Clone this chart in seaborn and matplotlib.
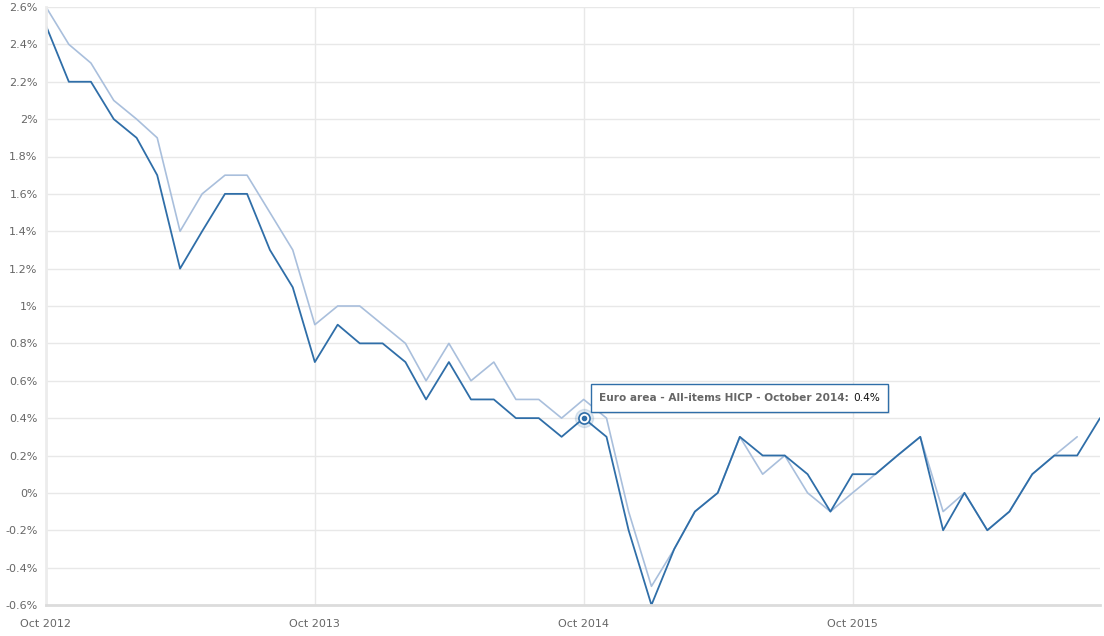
import matplotlib
matplotlib.use("Agg")
import matplotlib.pyplot as plt
from matplotlib.patches import Rectangle
import numpy as np
import pandas as pd
import seaborn as sns

# monthly values, Oct 2012 .. Sep 2016
months = pd.date_range("2012-10-01", periods=48, freq="MS")
hicp = [2.5, 2.2, 2.2, 2.0, 1.9, 1.7, 1.2, 1.4, 1.6, 1.6, 1.3, 1.1,
        0.7, 0.9, 0.8, 0.8, 0.7, 0.5, 0.7, 0.5, 0.5, 0.4, 0.4, 0.3,
        0.4, 0.3, -0.2, -0.6, -0.3, -0.1, 0.0, 0.3, 0.2, 0.2, 0.1, -0.1,
        0.1, 0.1, 0.2, 0.3, -0.2, 0.0, -0.2, -0.1, 0.1, 0.2, 0.2, 0.4]
# second series (lighter), ends Aug 2016
hicp_prev = [2.6, 2.4, 2.3, 2.1, 2.0, 1.9, 1.4, 1.6, 1.7, 1.7, 1.5, 1.3,
             0.9, 1.0, 1.0, 0.9, 0.8, 0.6, 0.8, 0.6, 0.7, 0.5, 0.5, 0.4,
             0.5, 0.4, -0.1, -0.5, -0.3, -0.1, 0.0, 0.3, 0.1, 0.2, 0.0, -0.1,
             0.0, 0.1, 0.2, 0.3, -0.1, 0.0, -0.2, -0.1, 0.1, 0.2, 0.3, np.nan]

y_ticks = [-0.6, -0.4, -0.2, 0, 0.2, 0.4, 0.6, 0.8, 1, 1.2, 1.4, 1.6, 1.8, 2, 2.2, 2.4, 2.6]
y_labels = ["-0.6%", "-0.4%", "-0.2%", "0%", "0.2%", "0.4%", "0.6%", "0.8%", "1%",
            "1.2%", "1.4%", "1.6%", "1.8%", "2%", "2.2%", "2.4%", "2.6%"]
x_label_dates = pd.to_datetime(["2012-10-01", "2013-10-01", "2014-10-01", "2015-10-01"])
x_labels = ["Oct 2012", "Oct 2013", "Oct 2014", "Oct 2015"]

tip_idx = 24
tip_text = "Euro area - All-items HICP - October 2014:"
tip_value = "0.4%"

df = pd.DataFrame({"month": months, "hicp": hicp, "prev": hicp_prev})

sns.set_style("white")
plt.rcParams["font.family"] = ["DejaVu Sans"]

dark = "#2f6ea8"
light = "#a9bfdc"
grid = "#e8e8e8"
txt = "#666666"

fig = plt.figure(figsize=(11.04, 6.36), dpi=100)
ax = fig.add_axes([46 / 1104, 31 / 636, 1054 / 1104, 598 / 636])

sns.lineplot(data=df, x="month", y="prev", ax=ax, color=light, linewidth=1.2)
sns.lineplot(data=df, x="month", y="hicp", ax=ax, color=dark, linewidth=1.3)

ax.set_xlim(months[0], months[-1])
ax.set_ylim(-0.6, 2.6)
ax.set_xlabel("")
ax.set_ylabel("")

ax.set_yticks(y_ticks)
ax.set_yticklabels(y_labels)
ax.set_xticks(x_label_dates)
ax.set_xticklabels(x_labels)
ax.set_xticks(months, minor=True)

ax.grid(True, axis="both", which="major", color=grid, linewidth=1)
ax.set_axisbelow(True)
ax.tick_params(axis="y", length=0, pad=6, labelsize=8, labelcolor=txt)
ax.tick_params(axis="x", which="major", length=5, width=1, color="#d0d0d0",
               pad=5, labelsize=8, labelcolor=txt)
ax.tick_params(axis="x", which="minor", length=4.5, width=1, color="#d8d8d8")
for s in ["top", "right"]:
    ax.spines[s].set_visible(False)
ax.spines["bottom"].set_color("#dcdcdc")
ax.spines["bottom"].set_linewidth(2)
ax.spines["left"].set_color("#ececec")
ax.spines["left"].set_linewidth(2)

# highlighted point
px, py = months[tip_idx], hicp[tip_idx]
ax.plot([px], [py], marker="o", markersize=13, color=dark, alpha=0.15, zorder=5)
ax.plot([px], [py], marker="o", markersize=8, markerfacecolor="white",
        markeredgecolor=dark, markeredgewidth=1.2, zorder=6)
ax.plot([px], [py], marker="o", markersize=3, color=dark, zorder=7)

# tooltip
t1 = ax.annotate(tip_text, xy=(0.0, 0.0), xycoords=ax.transData,
                 xytext=(11, 14.5), textcoords="offset points",
                 fontsize=7.6, fontweight="bold", color="#666666", va="center", ha="left", zorder=12)
t1.xy = (ax.convert_xunits(px), py)
t2 = ax.annotate(tip_value, xy=(1, 0.5), xycoords=t1, xytext=(3, 0), textcoords="offset points",
                 fontsize=7.6, color="#111111", va="center", ha="left", zorder=12)
fig.canvas.draw()
r = fig.canvas.get_renderer()
b1 = t1.get_window_extent(r)
b2 = t2.get_window_extent(r)
x0, x1 = b1.x0 - 8, b2.x1 + 8
yc = (b1.y0 + b1.y1) / 2
y0, y1 = yc - 14, yc + 14
inv = fig.transFigure.inverted()
(fx0, fy0), (fx1, fy1) = inv.transform([(x0, y0), (x1, y1)])
shadow = Rectangle((fx0 + 2 / 1104, fy0 - 2 / 636), fx1 - fx0, fy1 - fy0, transform=fig.transFigure,
                   facecolor="#000000", alpha=0.08, edgecolor="none", zorder=10, clip_on=False)
box = Rectangle((fx0, fy0), fx1 - fx0, fy1 - fy0, transform=fig.transFigure,
                facecolor="white", edgecolor=dark, linewidth=1, zorder=11, clip_on=False)
ax.add_artist(shadow)
ax.add_artist(box)

fig.savefig("out.png", dpi=100)
